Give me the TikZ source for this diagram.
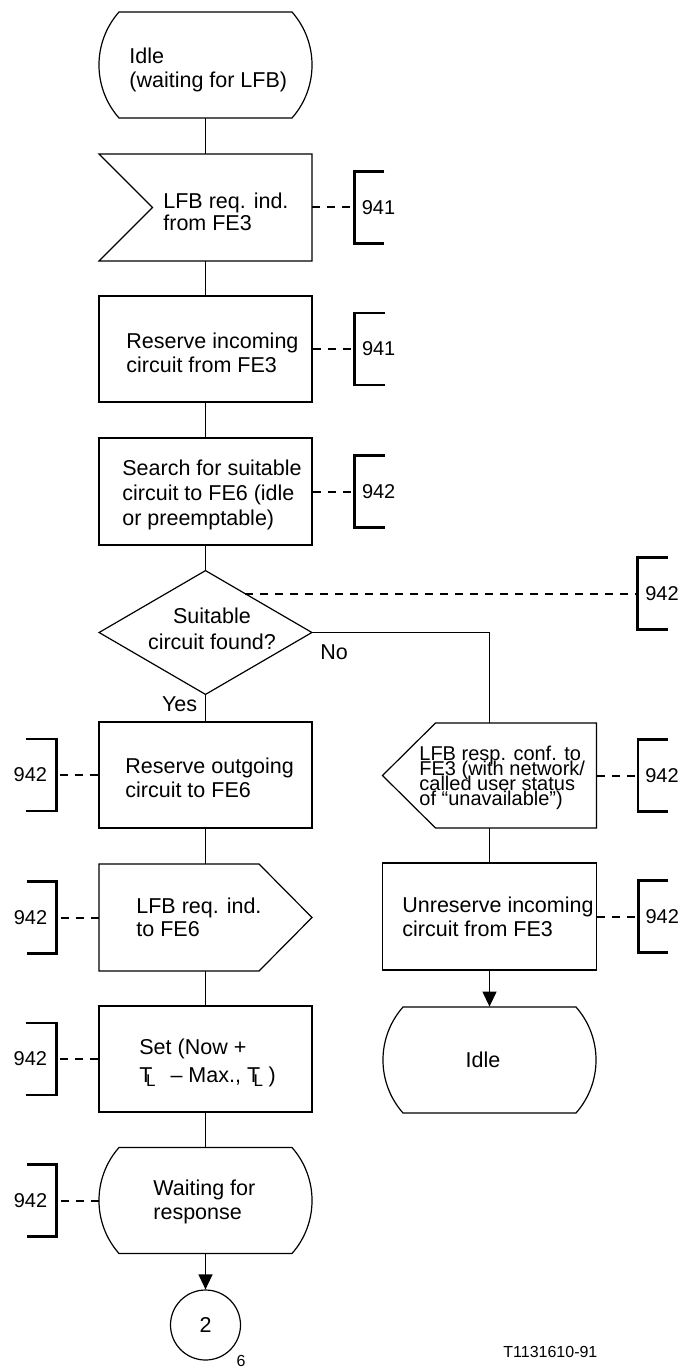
\documentclass[tikz,border=0pt]{standalone}
\usepackage{fontspec}
\setmainfont{Liberation Sans}
\usetikzlibrary{calc,arrows.meta}

% timer symbol T with subscript L
\newcommand\tsubL{T\kern-.3em\raisebox{-.4ex}{\fontsize{8.5pt}{8.5pt}\selectfont L}}

% tightly packed lines of text
\newcommand\tightlines{\lineskiplimit=-100pt\relax\lineskip=0pt\relax}

% SDL state symbol: flat top and bottom, convex sides
\newcommand\stateoutline[1]{%
  \draw[outline,shift={(#1.center)}] (-86.5,-53) -- (86.5,-53)
    .. controls (113.2,-22.7) and (113.2,22.7) .. (86.5,53) -- (-86.5,53)
    .. controls (-113.2,22.7) and (-113.2,-22.7) .. (-86.5,-53) -- cycle;}

% reference brackets with their clause numbers
\newcommand\rightbracket[2]{%
  \draw[bracket] ($(#1)+(30,-36)$) -- ($(#1)+(0,-36)$) -- ($(#1)+(0,36)$) -- ($(#1)+(30,36)$);
  \node[reflabel,anchor=west] (#1-t) at ($(#1)+(7,0)$) {#2};}
\newcommand\leftbracket[2]{%
  \draw[bracket] ($(#1)+(-30,-36)$) -- ($(#1)+(0,-36)$) -- ($(#1)+(0,36)$) -- ($(#1)+(-30,36)$);
  \node[reflabel,anchor=east] (#1-t) at ($(#1)+(-9,0)$) {#2};}

\begin{document}
\begin{tikzpicture}[x=0.5pt,y=-0.5pt,
  outline/.style={line width=0.6pt},
  box/.style={draw,line width=0.6pt,rectangle,inner sep=0,minimum width=106.5pt,minimum height=53pt},
  frame/.style={rectangle,inner sep=0,minimum width=106.5pt,minimum height=53pt},
  % text blocks are placed by the baseline of their last line
  txt/.style={inner sep=0,anchor=base west,align=left,font=\fontsize{10.75pt}{12pt}\selectfont},
  flow/.style={line width=0.6pt},
  flowarrow/.style={flow,-{Triangle[length=7.5pt,width=7pt]}},
  refline/.style={line width=1pt,dash pattern=on 4pt off 3.5pt},
  bracket/.style={line width=1.4pt},
  reflabel/.style={inner sep=0,font=\fontsize{10pt}{12pt}\selectfont},
]
\useasboundingbox (0,0) rectangle (684,1369);

% ---------- main column ----------
\node[frame] (idle1) at (205.5,65) {};
\stateoutline{idle1}
\node[txt] (idle1-t) at (129,88) {Idle\\(waiting for LFB)};

\node[frame,minimum height=53.5pt] (in1) at (205.5,207.5) {};
\draw[outline,shift={(in1.center)}] (-106.5,-53.5) -- (106.5,-53.5) -- (106.5,53.5)
  -- (-106.5,53.5) -- (-53,0) -- cycle;
\node[txt,font=\fontsize{10.75pt}{11pt}\selectfont] (in1-t) at (163,231) {LFB req. ind.\\from FE3};

\node[box] (resin) at (205.5,349) {};
\node[txt] (resin-t) at (126,372) {Reserve incoming\\circuit from FE3};

\node[box,minimum height=53.5pt] (search) at (205.5,491.5) {};
\node[txt,font=\fontsize{10.75pt}{12.5pt}\selectfont] (search-t) at (122,525)
  {Search for suitable\\circuit to FE6 (idle\\or preemptable)};

\node[frame,minimum width=106pt,minimum height=61.5pt] (dec) at (205.5,632.5) {};
\draw[outline] (dec.north) -- (dec.east) -- (dec.south) -- (dec.west) -- cycle;
\node[txt,anchor=base,align=center,font=\fontsize{10.75pt}{13pt}\selectfont] (dec-t) at (212,649)
  {Suitable\\circuit found?};
\node[txt,anchor=north east] (yes) at ($(dec.south)+(-8,2)$) {Yes};
\node[txt,anchor=north west] (no) at ($(dec.east)+(8,12)$) {No};

\node[box] (resout) at (205.5,775) {};
\node[txt] (resout-t) at (125,797) {Reserve outgoing\\circuit to FE6};

\node[frame,minimum height=53.5pt] (outfe6) at (205.5,917.5) {};
\draw[outline,shift={(outfe6.center)}] (-106.5,-53.5) -- (53.5,-53.5) -- (106.5,0)
  -- (53.5,53.5) -- (-106.5,53.5) -- cycle;
\node[txt,font=\fontsize{10.75pt}{11.75pt}\selectfont] (outfe6-t) at (136,936.5) {LFB req. ind.\\to FE6};

\node[box] (set) at (205.5,1059) {};
\node[txt,font=\fontsize{10.75pt}{14pt}\selectfont] (set-t) at (139,1082)
  {Set (Now +\\\tsubL\hspace{.7em}-- Max., \tsubL\hspace{.25em})};

\node[frame,minimum height=52.5pt] (wait) at (205.5,1200.5) {};
\stateoutline{wait}
\node[txt] (wait-t) at (153,1219) {Waiting for\\response};

\node[circle,draw,line width=0.6pt,minimum size=35pt,inner sep=0,
  font=\fontsize{10.75pt}{12pt}\selectfont] (conn) at (205.5,1325) {2};
\node[inner sep=0,font=\fontsize{8pt}{9pt}\selectfont] (page) at (241,1361) {6};

% ---------- "No" branch ----------
\node[frame,minimum width=107pt,minimum height=52.5pt] (outresp) at (489.5,775.5) {};
\draw[outline,shift={(outresp.center)}] (-54,-52.5) -- (107,-52.5) -- (107,52.5)
  -- (-54,52.5) -- (-107,0) -- cycle;
\node[txt,font=\fontsize{10pt}{7.5pt}\selectfont\tightlines] (outresp-t) at (419,805)
  {LFB resp. conf. to\\FE3 (with network/\\called user status\\of “unavailable”)};

\node[box,minimum width=107pt,minimum height=53.5pt] (unres) at (489.5,916.5) {};
\node[txt] (unres-t) at (402,936) {Unreserve incoming\\circuit from FE3};

\node[frame,minimum width=107pt] (idle2) at (489.5,1060) {};
\stateoutline{idle2}
\node[txt,anchor=base] (idle2-t) at (483,1067) {Idle};

% ---------- flow lines ----------
\draw[flow] (idle1.south) -- (in1.north);
\draw[flow] (in1.south) -- (resin.north);
\draw[flow] (resin.south) -- (search.north);
\draw[flow] (search.south) -- (dec.north);
\draw[flow] (dec.south) -- (resout.north);
\draw[flow] (resout.south) -- (outfe6.north);
\draw[flow] (outfe6.south) -- (set.north);
\draw[flow] (set.south) -- (wait.north);
\draw[flowarrow] (wait.south) -- (conn.north);
\draw[flow] (dec.east) -| (outresp.north);
\draw[flow] (outresp.south) -- (unres.north);
\draw[flowarrow] (unres.south) -- (idle2.north);

% ---------- clause references ----------
\coordinate (r1) at ($(in1.east)+(42,0)$);
\draw[refline] (in1.east) -- (r1);
\rightbracket{r1}{941}

\coordinate (r2) at ($(resin.east)+(42,0)$);
\draw[refline] (resin.east) -- (r2);
\rightbracket{r2}{941}

\coordinate (r3) at ($(search.east)+(42,0)$);
\draw[refline] (search.east) -- (r3);
\rightbracket{r3}{942}

\coordinate (dp) at ($(dec.north)!0.37!(dec.east)$);
\path (dp) ++(393,0) coordinate (r4);
\draw[refline] (dp) -- (r4);
\rightbracket{r4}{942}

\coordinate (r5) at ($(outresp.east)+(41,0)$);
\draw[refline] (outresp.east) -- (r5);
\rightbracket{r5}{942}

\coordinate (r6) at ($(unres.east)+(41,0)$);
\draw[refline] (unres.east) -- (r6);
\rightbracket{r6}{942}

\coordinate (l1) at ($(resout.west)+(-42,0)$);
\draw[refline] (resout.west) -- (l1);
\leftbracket{l1}{942}

\coordinate (l2) at ($(outfe6.west)+(-42,0)$);
\draw[refline] (outfe6.west) -- (l2);
\leftbracket{l2}{942}

\coordinate (l3) at ($(set.west)+(-42,0)$);
\draw[refline] (set.west) -- (l3);
\leftbracket{l3}{942}

\coordinate (l4) at ($(wait.west)+(-42,0)$);
\draw[refline] (wait.west) -- (l4);
\leftbracket{l4}{942}

\node[inner sep=0,anchor=west,font=\fontsize{8pt}{9pt}\selectfont] (fig) at (503,1352) {T1131610-91};
\end{tikzpicture}
\end{document}
